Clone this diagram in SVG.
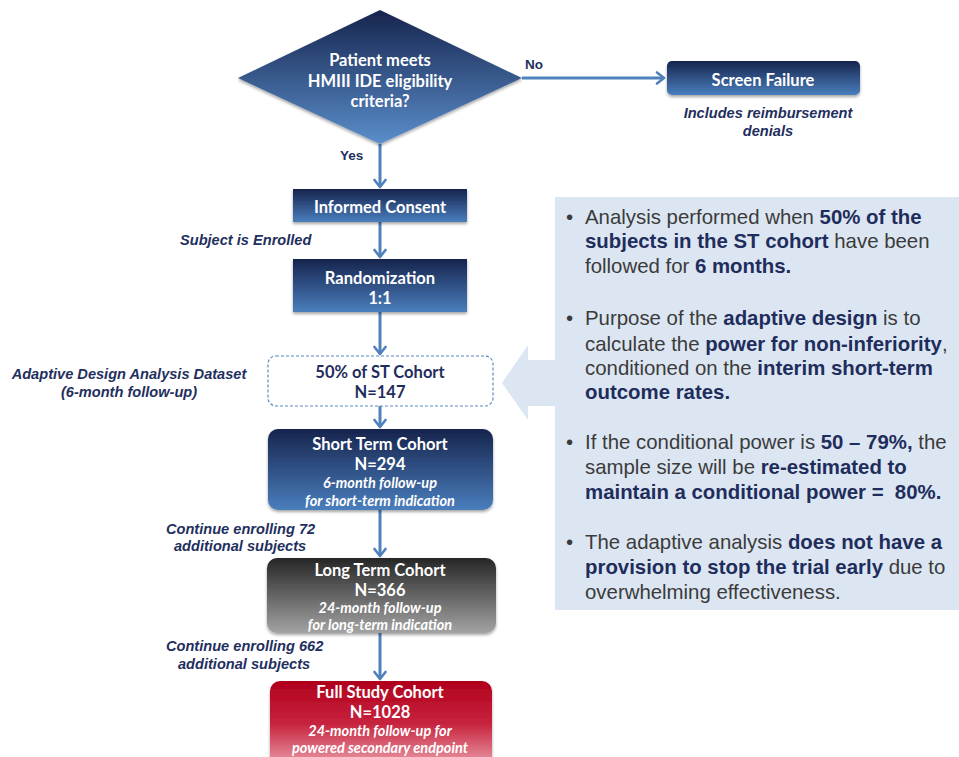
<svg xmlns="http://www.w3.org/2000/svg" width="959" height="757" viewBox="0 0 959 757">
<defs>
<linearGradient id="gBlue" x1="0" y1="0" x2="0" y2="1"><stop offset="0" stop-color="#16244d"/><stop offset="1" stop-color="#4a7ebd"/></linearGradient>
<linearGradient id="gDia" x1="0" y1="0" x2="0" y2="1"><stop offset="0" stop-color="#16244d"/><stop offset="1" stop-color="#5a8ecb"/></linearGradient>
<linearGradient id="gGray" x1="0" y1="0" x2="0" y2="1"><stop offset="0" stop-color="#262626"/><stop offset="1" stop-color="#a3a3a3"/></linearGradient>
<linearGradient id="gRed" x1="0" y1="0" x2="0" y2="1"><stop offset="0" stop-color="#b0001c"/><stop offset="0.5" stop-color="#c8243f"/><stop offset="1" stop-color="#eaa0ab"/></linearGradient>
<filter id="sh" x="-10%" y="-10%" width="120%" height="130%"><feDropShadow dx="0" dy="2" stdDeviation="1.5" flood-color="#000" flood-opacity="0.35"/></filter>
<marker id="ah" markerWidth="14" markerHeight="14" refX="10" refY="7" orient="auto" markerUnits="userSpaceOnUse"><path d="M3,1.5 L10,7 L3,12.5" fill="none" stroke="#4f81bd" stroke-width="2.6" stroke-linecap="round" stroke-linejoin="round"/></marker>
</defs>
<style>
.conn{stroke:#4f81bd;stroke-width:3;fill:none;marker-end:url(#ah)}
.nt{font-family:Lato,"Open Sans",sans-serif;font-weight:bold;font-size:16.5px;fill:#fff;text-anchor:middle}
.ni{font-family:Lato,"Open Sans",sans-serif;font-style:italic;font-weight:bold;font-size:14.5px;fill:#fff;text-anchor:middle}
.nd{font-family:Lato,"Open Sans",sans-serif;font-weight:bold;font-size:16.5px;fill:#1f2d5c;text-anchor:middle}
.lab{font-family:"Liberation Sans",Arial,sans-serif;font-weight:bold;font-style:italic;font-size:14.6px;fill:#1f2f5e}
.yn{font-family:"Liberation Sans",Arial,sans-serif;font-weight:bold;font-size:13.5px;fill:#1f2f5e}
.pt{font-family:"Liberation Sans",Arial,sans-serif;font-size:20.4px;fill:#3b3b3b}
.pb{font-weight:bold;fill:#1f2d5c}
</style>
<rect width="959" height="757" fill="#fff"/>

<g id="panel">
<polygon points="502,383 528,345 528,360 556,360 556,406 528,406 528,420" fill="#dce6f2"/>
<rect x="555" y="197" width="404" height="413" fill="#dce6f2"/>
<g class="pt">
<text x="566" y="224">•</text>
<text x="585" y="224">Analysis performed when <tspan class="pb">50% of the</tspan></text>
<text x="585" y="248"><tspan class="pb">subjects in the ST cohort</tspan> have been</text>
<text x="585" y="273">followed for <tspan class="pb">6 months.</tspan></text>
<text x="566" y="325">•</text>
<text x="585" y="325">Purpose of the <tspan class="pb">adaptive design</tspan> is to</text>
<text x="585" y="351">calculate the <tspan class="pb">power for non-inferiority</tspan>,</text>
<text x="585" y="375">conditioned on the <tspan class="pb">interim short-term</tspan></text>
<text x="585" y="399"><tspan class="pb">outcome rates.</tspan></text>
<text x="566" y="449">•</text>
<text x="585" y="449">If the conditional power is <tspan class="pb">50 – 79%,</tspan> the</text>
<text x="585" y="474">sample size will be <tspan class="pb">re-estimated to</tspan></text>
<text x="585" y="499"><tspan class="pb">maintain a conditional power = &#160;80%.</tspan></text>
<text x="566" y="549">•</text>
<text x="585" y="549">The adaptive analysis <tspan class="pb">does not have a</tspan></text>
<text x="585" y="574"><tspan class="pb">provision to stop the trial early</tspan> due to</text>
<text x="585" y="599">overwhelming effectiveness.</text>
</g>
</g>

<g id="connectors">
<line class="conn" x1="522" y1="78" x2="664" y2="78"/>
<line class="conn" x1="380" y1="144" x2="380" y2="187"/>
<line class="conn" x1="380" y1="222" x2="380" y2="257"/>
<line class="conn" x1="380" y1="312" x2="380" y2="354"/>
<line class="conn" x1="380" y1="406" x2="380" y2="427"/>
<line class="conn" x1="380" y1="510" x2="380" y2="556"/>
<line class="conn" x1="380" y1="633" x2="380" y2="679"/>
<text class="yn" x="525" y="69">No</text>
<text class="yn" x="340" y="160">Yes</text>
</g>

<g id="decision">
<polygon points="238,78 380,10 522,78 380,144" fill="url(#gDia)" filter="url(#sh)"/>
<text class="nt" x="380" y="66">Patient meets</text>
<text class="nt" x="380" y="87">HMIII IDE eligibility</text>
<text class="nt" x="380" y="107">criteria?</text>
</g>

<g id="screen-failure">
<rect x="667" y="61" width="193" height="34" rx="5" fill="url(#gBlue)" filter="url(#sh)"/>
<text class="nt" x="763" y="86">Screen Failure</text>
<text class="lab" x="768" y="118" text-anchor="middle">Includes reimbursement</text>
<text class="lab" x="768" y="136" text-anchor="middle">denials</text>
</g>

<g id="informed-consent">
<rect x="293" y="189" width="174" height="33" fill="url(#gBlue)" filter="url(#sh)"/>
<text class="nt" x="380" y="213">Informed Consent</text>
</g>
<text class="lab" x="180" y="245">Subject is Enrolled</text>

<g id="randomization">
<rect x="293" y="259" width="174" height="53" fill="url(#gBlue)" filter="url(#sh)"/>
<text class="nt" x="380" y="284">Randomization</text>
<text class="nt" x="380" y="304">1:1</text>
</g>

<g id="st-50">
<rect x="268" y="356" width="225" height="50" rx="8" fill="#fff" stroke="#5b8ac4" stroke-width="1.2" stroke-dasharray="3,2"/>
<text class="nd" x="380" y="378">50% of ST Cohort</text>
<text class="nd" x="380" y="398">N=147</text>
</g>
<text class="lab" x="129" y="379" text-anchor="middle">Adaptive Design Analysis Dataset</text>
<text class="lab" x="129" y="397" text-anchor="middle">(6-month follow-up)</text>

<g id="short-term">
<rect x="268" y="429" width="225" height="81" rx="10" fill="url(#gBlue)" filter="url(#sh)"/>
<text class="nt" x="380" y="450">Short Term Cohort</text>
<text class="nt" x="380" y="470">N=294</text>
<text class="ni" x="380" y="488">6-month follow-up</text>
<text class="ni" x="380" y="506">for short-term indication</text>
</g>
<text class="lab" x="166" y="534">Continue enrolling 72</text>
<text class="lab" x="174" y="551">additional subjects</text>

<g id="long-term">
<rect x="267" y="558" width="229" height="75" rx="10" fill="url(#gGray)" filter="url(#sh)"/>
<text class="nt" x="380" y="576">Long Term Cohort</text>
<text class="nt" x="380" y="596">N=366</text>
<text class="ni" x="380" y="613">24-month follow-up</text>
<text class="ni" x="380" y="630">for long-term indication</text>
</g>
<text class="lab" x="166" y="651">Continue enrolling 662</text>
<text class="lab" x="178" y="669">additional subjects</text>

<g id="full-study">
<rect x="270" y="681" width="222" height="86" rx="10" fill="url(#gRed)" filter="url(#sh)"/>
<text class="nt" x="380" y="698">Full Study Cohort</text>
<text class="nt" x="380" y="718">N=1028</text>
<text class="ni" x="380" y="736">24-month follow-up for</text>
<text class="ni" x="380" y="753">powered secondary endpoint</text>
</g>
</svg>
